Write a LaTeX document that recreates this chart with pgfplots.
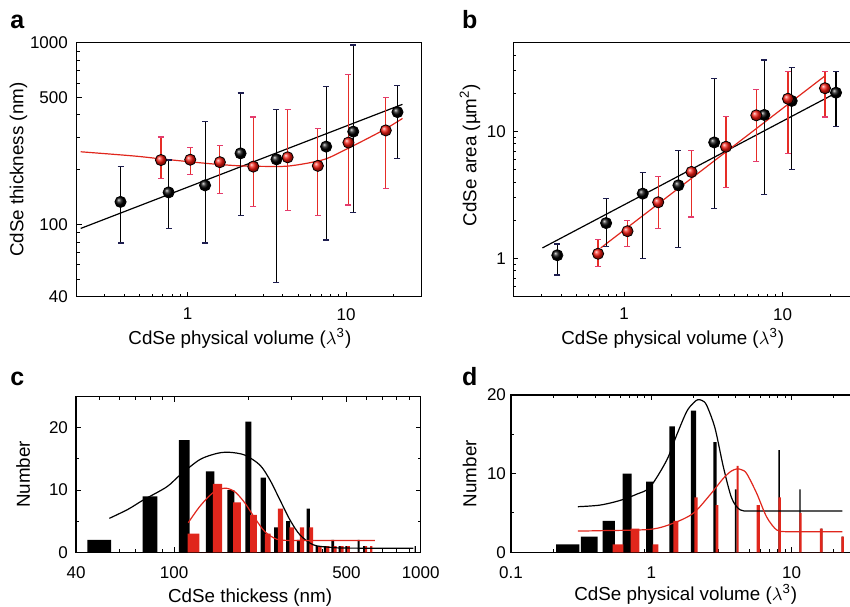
\documentclass[border=0pt]{standalone}
\usepackage{pgfplots}
\usepackage{pgfplotstable}
\pgfplotsset{compat=1.18}
\usepackage{fontspec}
\setmainfont{Liberation Sans}

\definecolor{cred}{RGB}{224,38,28}
\definecolor{cball}{RGB}{240,22,12}
\definecolor{cerr}{RGB}{230,45,38}
\definecolor{cpink}{RGB}{228,60,110}
\definecolor{cnavy}{RGB}{30,30,80}

% panel a: thickness vs volume (x, y, error plus, error minus)
\pgfplotstableread{
x y ep em
0.378 133 76 54
0.76 150 76 55.4
1.29 164 203 85
2.16 246 282 134
3.64 228 202 180.3
7.49 268 305 186
11.1 324 646 208
21.1 415 167 185
}\thickblack
\pgfplotstableread{
x y ep em
0.68 226 77 48
1.04 227 37 38
1.6 220 53 72
2.6 208 182 82
4.28 234 196 115
6.64 210 127 98
10.35 282 385 154
17.8 329 169 172
}\thickred
% panel b: area vs volume
\pgfplotstableread{
x y ep em
0.379 1.06 0.24 0.32
0.77 1.9 1.08 0.66
1.31 3.24 1.52 2.24
2.2 3.77 3.28 2.55
3.7 8.2 17.9 5.73
7.66 13.5 23 10.3
11.4 17.4 14.4 12.4
21.7 20.2 9.6 9.3
}\areablack
\pgfplotstableread{
x y ep em
0.685 1.09 0.32 0.22
1.05 1.64 0.36 0.40
1.64 2.77 1.66 1.04
2.66 4.8 2.3 2.68
4.39 7.58 5.52 3.95
6.82 13.4 8 7.6
10.8 18.1 11.7 11.42
18.5 21.9 7.9 8.9
}\areared

% 1 px of the reference = 0.5pt
\pgfplotsset{
  panel/.style={
    scale only axis,
    anchor=south west,
    axis line style={line width=0.6pt},
    tick label style={font=\fontsize{8.5}{10}\selectfont},
    label style={font=\fontsize{9.4}{11}\selectfont},
    major tick length=2.5pt, minor tick length=1.5pt,
    every tick/.style={black, line width=0.5pt},
  },
  blackerr/.style={only marks, mark=none, error bars/.cd, y dir=both, y explicit,
    error bar style={line width=0.55pt, black},
    error mark options={rotate=90, mark size=1.5pt, line width=0.6pt, cnavy}},
  rederr/.style={only marks, mark=none, error bars/.cd, y dir=both, y explicit,
    error bar style={line width=0.6pt, cerr},
    error mark options={rotate=90, mark size=1.5pt, line width=0.6pt, cpink}},
  blackball/.style={only marks, mark=ball, mark size=2.8pt, ball color=black},
  redball/.style={only marks, mark=ball, mark size=2.8pt, ball color=cball},
}

\begin{document}
\begin{tikzpicture}

% ---------------- a ----------------
\begin{axis}[panel, at={(38.35pt,154.65pt)}, width=172.5pt, height=127pt,
  xmode=log, ymode=log, xmin=0.2, xmax=30, ymin=40, ymax=1000,
  xtick={1,10}, xticklabels={1,10},
  minor xtick={0.3,0.4,0.5,0.6,0.7,0.8,0.9,2,3,4,5,6,7,8,9,20},
  ytick={40,100,500,1000}, yticklabels={40,100,500,1000},
  minor ytick={50,60,70,80,90,200,300,400,600,700,800,900},
  xtick pos=left, ytick pos=left,
  xticklabel shift=2.2pt, yticklabel shift=0.9pt,
  xlabel={CdSe physical volume ($\lambda$\textsuperscript{3})},
  xlabel style={at={(axis description cs:0.473,-0.19)}, anchor=base},
  ylabel={CdSe thickness (nm)},
  ylabel style={at={(axis description cs:-0.169,0.5)}, anchor=center},
]
\addplot[black, line width=0.6pt] coordinates {(0.212,95) (22.7,458)};
\addplot[cred, line width=0.6pt, smooth] coordinates {
  (0.212,251) (0.458,238) (0.674,229.6) (0.99,222) (1.456,215) (2.14,210)
  (3.15,208.5) (4.2,209) (5.61,216.6) (7.49,229.6) (10,259) (13.35,294)
  (17.8,336) (22.7,383)};
\addplot[blackerr] table[x=x, y=y, y error plus=ep, y error minus=em] {\thickblack};
\addplot[rederr] table[x=x, y=y, y error plus=ep, y error minus=em] {\thickred};
\addplot[blackball] table[x=x, y=y] {\thickblack};
\addplot[redball] table[x=x, y=y] {\thickred};
\end{axis}

% ---------------- b ----------------
\begin{axis}[panel, at={(256.65pt,154.65pt)}, width=172.5pt, height=127pt,
  xmode=log, ymode=log, xmin=0.2, xmax=30, ymin=0.5, ymax=50,
  xtick={1,10}, xticklabels={1,10},
  minor xtick={0.3,0.4,0.5,0.6,0.7,0.8,0.9,2,3,4,5,6,7,8,9,20},
  ytick={1,10}, yticklabels={1,10},
  minor ytick={0.6,0.7,0.8,0.9,2,3,4,5,6,7,8,9,20,30,40},
  xtick pos=left, ytick pos=left,
  xticklabel shift=2.2pt, yticklabel shift=0.2pt,
  xlabel={CdSe physical volume ($\lambda$\textsuperscript{3})},
  xlabel style={at={(axis description cs:0.462,-0.19)}, anchor=base},
  ylabel={CdSe area (µm\textsuperscript{2})},
  ylabel style={at={(axis description cs:-0.1255,0.558)}, anchor=center},
]
\addplot[black, line width=0.6pt] coordinates {(0.305,1.21) (21.2,19.8)};
\addplot[cred, line width=0.6pt] coordinates {(0.712,1.21) (18.5,27.4)};
\addplot[blackerr] table[x=x, y=y, y error plus=ep, y error minus=em] {\areablack};
\addplot[rederr] table[x=x, y=y, y error plus=ep, y error minus=em] {\areared};
\addplot[blackball] table[x=x, y=y] {\areablack};
\addplot[redball] table[x=x, y=y] {\areared};
\end{axis}

% ---------------- c ----------------
\begin{axis}[panel, at={(38pt,26.85pt)}, width=172.35pt, height=77.85pt,
  xmode=log, xmin=40, xmax=1000, ymin=0, ymax=25,
  xtick={40,100,500,1000}, xticklabels={40,100,500,1000},
  minor xtick={50,60,70,80,90,200,300,400,600,700,800,900},
  ytick={0,10,20}, yticklabels={0,10,20}, minor ytick={5,15,25},
  xticklabel shift=3.5pt, yticklabel shift=0.5pt,
  xlabel={CdSe thickess (nm)},
  xlabel style={at={(axis description cs:0.505,-0.321)}, anchor=base},
  ylabel={Number},
  ylabel style={at={(axis description cs:-0.153,0.5)}, anchor=center},
]
\addplot[ybar interval, fill=black, draw=none] coordinates {
  (44.5,2) (55.5,0) (74.5,9) (85.5,0) (104.5,18) (115.5,0) (134.5,13) (145.5,0)
  (164.5,10) (175.5,0) (194.5,21) (205.5,0) (224.5,12) (235.5,0) (254.5,4) (265.5,0)
  (284.5,5) (295.5,0) (314.5,2) (325.5,0) (344.5,7) (355.5,0) (374.5,1) (385.5,0)
  (404.5,1) (415.5,0) (434.5,2) (445.5,0) (464.5,1) (475.5,0) (494.5,1) (505.5,0)
  (554.5,2) (565.5,0) (584.5,1) (595.5,0) (944.5,1) (955.5,0)};
\addplot[ybar interval, fill=cred, draw=none] coordinates {
  (113.5,3) (126.5,0) (143.5,11) (156.5,0) (173.5,8) (186.5,0) (203.5,6) (216.5,0)
  (233.5,3) (246.5,0) (263.5,7) (276.5,0) (293.5,4) (306.5,0) (323.5,4) (336.5,0)
  (353.5,4) (366.5,0) (383.5,1) (396.5,0) (413.5,1) (426.5,0) (443.5,1) (456.5,0)
  (473.5,1) (486.5,0) (503.5,1) (516.5,0) (593.5,1) (606.5,0) (623.5,1) (636.5,0)};
\addplot[black, line width=0.6pt, smooth] coordinates {
  (54.6,5.45) (65,6.9) (75,8.4) (93.3,10.5) (105.6,12.4) (127.3,14.9) (150,15.9)
  (168.4,16.05) (193.8,15.6) (222.9,14.0) (244.8,11.6) (268.7,8.4) (295,5.2)
  (323.8,2.8) (366.7,1.2) (428.5,0.8) (500,0.68) (933,0.64)};
\addplot[cred, line width=0.6pt, smooth] coordinates {
  (114.1,4.75) (127.3,7.4) (144.1,9.6) (160.8,10.3) (176.5,9.7) (193.8,7.9)
  (212.8,5.45) (233.6,3.3) (260.6,2.1) (295,1.9) (400,1.9) (652.5,1.9)};
\end{axis}

% ---------------- d ----------------
\begin{axis}[panel, at={(255.5pt,26.85pt)}, width=173.75pt, height=78.65pt,
  xmode=log, xmin=0.1, xmax=30, ymin=0, ymax=20,
  xtick={0.1,1,10}, xticklabels={0.1,1,10},
  minor xtick={0.2,0.3,0.4,0.5,0.6,0.7,0.8,0.9,2,3,4,5,6,7,8,9,20},
  ytick={0,10,20}, yticklabels={0,10,20}, minor ytick={5,15},
  xticklabel shift=3.5pt, yticklabel shift=-1pt,
  xlabel={CdSe physical volume ($\lambda$\textsuperscript{3})},
  xlabel style={at={(axis description cs:0.503,-0.308)}, anchor=base},
  ylabel={Number},
  ylabel style={at={(axis description cs:-0.119,0.5)}, anchor=center},
]
\addplot[ybar interval, fill=black, draw=none] coordinates {
  (0.2093,1) (0.3066,0) (0.3153,2) (0.415,0) (0.4503,4) (0.551,0) (0.6253,10) (0.7249,0)
  (0.917,9) (1.03,0) (1.344,16) (1.475,0) (1.919,18) (2.083,0) (2.766,14) (2.924,0)
  (3.95,8) (4.06,0) (5.69,6) (5.88,0) (8.04,13) (8.26,0) (11.35,8) (11.6,0)
  (16.1,3) (16.6,0) (22.7,2) (23.4,0)};
\addplot[ybar interval, fill=cred, draw=none] coordinates {
  (0.5307,1) (0.6316,0) (0.713,3) (0.821,0) (1.023,1) (1.122,0) (1.435,4) (1.557,0)
  (2.026,7) (2.142,0) (2.877,6) (3.003,0) (4.06,11) (4.2,0) (5.64,6) (5.955,0)
  (8.04,7) (8.40,0) (11.35,5) (11.8,0) (15.94,3) (16.66,0) (22.6,2) (23.6,0)};
\addplot[black, line width=0.6pt, smooth] coordinates {
  (0.30,5.8) (0.43,6.0) (0.6,6.6) (0.79,7.4) (0.98,8.3) (1.287,11.7) (1.516,14.9)
  (1.788,17.9) (2.0,19.0) (2.142,19.4) (2.3,19.3) (2.48,18.7) (2.844,15.8)
  (3.26,10.9) (3.74,6.9) (4.29,5.4) (5.1,5.25) (8,5.25) (23,5.25)};
\addplot[cred, line width=0.6pt, smooth] coordinates {
  (0.30,2.7) (0.43,2.75) (0.98,2.92) (1.435,3.7) (1.99,4.96) (2.62,7.3) (3.26,9.4)
  (3.7,10.3) (4.06,10.6) (4.4,10.5) (4.79,10.0) (5.64,7.5) (6.64,4.5) (7.83,2.84)
  (9.2,2.62) (12,2.62) (23,2.62)};
\end{axis}

\node[font=\bfseries\fontsize{12.5}{14}\selectfont, anchor=base west, inner sep=0pt] at (5pt,288.5pt) {a};
\node[font=\bfseries\fontsize{12.5}{14}\selectfont, anchor=base west, inner sep=0pt] at (230.85pt,288.5pt) {b};
\node[font=\bfseries\fontsize{12.5}{14}\selectfont, anchor=base west, inner sep=0pt] at (5pt,110.5pt) {c};
\node[font=\bfseries\fontsize{12.5}{14}\selectfont, anchor=base west, inner sep=0pt] at (230.85pt,110.5pt) {d};

\pgfresetboundingbox
\path[use as bounding box] (0,0) rectangle (425pt,303pt);
\end{tikzpicture}
\end{document}
